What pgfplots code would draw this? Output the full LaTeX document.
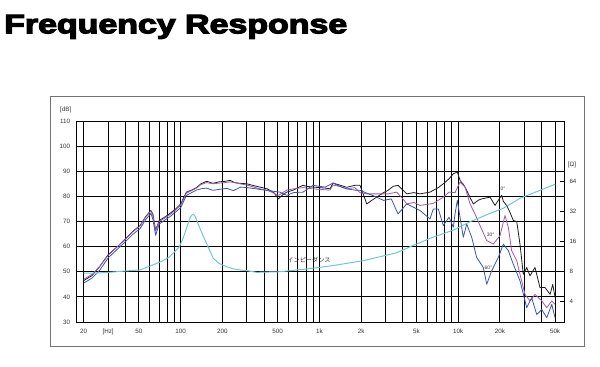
\documentclass[border=0pt]{standalone}
\usepackage{fontspec}
\setmainfont{Liberation Sans}
\newfontfamily\titlefont[FakeBold=4]{Liberation Sans Bold}
\newfontfamily\jpfont{Noto Sans CJK JP}
\usepackage{graphicx}
\usepackage{pgfplots}
\pgfplotsset{compat=1.18}
\definecolor{czero}{HTML}{1E1E1E}
\definecolor{cthirty}{HTML}{A05AAA}
\definecolor{csixty}{HTML}{3B55B5}
\definecolor{cimp}{HTML}{6CC8D4}
\begin{document}
\begin{tikzpicture}[x=1bp,y=1bp]
\path[use as bounding box] (0,0) rectangle (600,366);
\draw[black!55, line width=0.8bp] (50,20) rectangle (584,270);
\node[anchor=base west, inner sep=0] at (4,332.7) {\resizebox{343bp}{18.5bp}{\titlefont Frequency Response}};
\begin{axis}[
  at={(76bp,44bp)}, anchor=south west,
  width=488bp, height=201bp, scale only axis,
  xmode=log, xmin=17.6, xmax=58000, ymin=30, ymax=110,
  axis line style={black, line width=0.9bp},
  xtick={20,30,50,100,200,500,1000,2000,5000,10000,20000,50000},
  xticklabels={20,[Hz],50,100,200,500,1k,2k,5k,10k,20k,50k},
  minor xtick={20,30,40,50,60,70,80,90,100,200,300,400,500,600,700,800,900,1000,2000,3000,4000,5000,6000,7000,8000,9000,10000,20000,30000,40000,50000},
  xminorgrids=true, xmajorgrids=false,
  minor grid style={black, line width=0.85bp},
  ytick={30,40,...,110}, ymajorgrids=true,
  major grid style={black, line width=0.85bp},
  major tick length=0pt, minor tick length=0pt,
  extra y ticks={60,80}, extra y tick labels={},
  extra y tick style={grid style={black, line width=1.4bp}},
  extra x ticks={10000}, extra x tick labels={},
  extra x tick style={xmajorgrids=true, grid style={black, line width=1.7bp}},
  tick label style={font=\fontsize{6.3}{7}\selectfont, text=black!80},
  xticklabel style={anchor=base, yshift=-11.9bp},
  yticklabel style={xshift=-2.3bp},
  /pgf/number format/assume math mode=true,
  clip=true,
]
\addplot[czero, line width=0.8bp, line join=round] coordinates {
(20,46.5)(23,48.5)(26,52)(30,56.8)(35,60)(40,63.1)(45,66)(51,68.4)(56,72)(61,74.4)(63,73)(66,66.5)(70,70.4)(78,72)(85,73.5)(92,75)(100,77)(110,81.7)(120,82.5)(130,83.5)(140,85)(154,86)(171,85.2)(190,85.8)(210,86)(227,86.4)(245,85.5)(268,85.2)(300,85)(340,84.2)(373,83.7)(420,83)(470,81.5)(506,79)(540,80.5)(581,81.7)(650,82.5)(700,83.5)(762,84.4)(810,84)(899,83.7)(1000,83.5)(1100,83.3)(1193,83)(1253,85.3)(1400,84.5)(1573,83.6)(1800,84.4)(1963,84.4)(2100,80)(2193,77)(2400,78.5)(2589,79.7)(2900,81.5)(3123,82.4)(3400,84)(3689,84.4)(4000,82.5)(4260,81)(4800,81.5)(5312,81)(6270,81.7)(6622,82.4)(7200,83.5)(7818,85)(8600,87)(9233,89)(9870,89.7)(10320,86.4)(11000,84.5)(11530,82.4)(12200,79.5)(12880,77)(14000,78.5)(14790,79)(16980,79.7)(18450,76.4)(20050,79.5)(20620,80.4)(21200,78)(22390,76.4)(23500,74)(25000,70.4)(26460,70)(27930,61)(29510,49)(31230,51.7)(32960,48.4)(35830,51.7)(38950,43.7)(42350,43.7)(46030,41)(48100,45)(50000,39.7)
};
\addplot[cthirty, line width=0.8bp, line join=round] coordinates {
(20,47)(23,49)(26,52)(30,56.5)(35,60)(40,63)(45,65.8)(51,68.2)(56,71.8)(61,74.2)(63,72.5)(66,66.2)(70,70)(78,71.6)(85,73)(92,74.6)(100,76.5)(110,81.3)(120,82.3)(130,83.3)(140,84.7)(154,85.5)(171,85)(190,85.3)(210,85.5)(227,85.8)(268,85)(300,84.5)(373,83)(420,82.5)(506,80.4)(581,82.5)(650,83)(762,83.5)(899,83)(1000,82.8)(1193,82.5)(1253,84.5)(1400,84)(1573,83)(1800,83.5)(1963,81.5)(2193,81)(2589,81)(3123,81)(3609,81.7)(4000,79)(4260,77)(4800,77.6)(5312,76.4)(6270,77)(6622,77.2)(7818,79.7)(8600,81.7)(9500,81.5)(10320,85.7)(11220,83.7)(12190,77)(13240,73)(14380,68.4)(16080,62.4)(17940,61)(20050,64.4)(21780,72.4)(23010,67.7)(24320,58.4)(26460,54.4)(27930,49)(30350,41)(32960,38.4)(35830,41)(40090,38.4)(43550,35.7)(47330,38.4)(50000,37)
};
\addplot[csixty, line width=0.8bp, line join=round] coordinates {
(20,45.5)(23,47.5)(26,50.5)(30,55.5)(35,59)(40,62)(45,64.8)(51,67.2)(56,70.8)(61,73.2)(63,71)(66,64.5)(70,69)(78,70.8)(85,72.2)(92,73.8)(100,75.5)(110,80.4)(120,81.5)(130,82.5)(140,83)(154,83.3)(171,82.4)(190,82.8)(215,83.2)(240,82.3)(270,83.7)(300,83.5)(350,83)(400,82.5)(470,82)(520,81.7)(581,80.4)(650,81.5)(762,81.7)(899,84.4)(1000,84)(1100,83.7)(1253,85.3)(1400,84)(1573,83)(1800,82.5)(1963,82.4)(2589,79.7)(2900,78.4)(3300,79)(3689,73)(4260,77)(5312,74.4)(6270,71)(6622,75)(7200,75)(7818,68.4)(8600,71.7)(9233,67.7)(9500,73)(9870,78.4)(10320,71.7)(10900,63.7)(11530,69)(12530,63.7)(13610,55.7)(15200,51.7)(16080,45)(17460,50.4)(19490,55.7)(21180,61)(23010,58.4)(25000,53)(27930,46.4)(31230,35.7)(33910,39.7)(36870,33)(40090,35)(43550,31.7)(47330,37)(50000,31.7)
};
\node[font=\fontsize{5}{6}\selectfont, text=black!80] at (axis cs:21070,83.1) {0°};
\node[font=\fontsize{5}{6}\selectfont, text=black!80] at (axis cs:17180,64.8) {30°};
\node[font=\fontsize{5}{6}\selectfont, text=black!80] at (axis cs:16520,51.5) {60°};
\node[font=\jpfont\fontsize{6.2}{7}\selectfont, text=black!80] at (axis cs:841,54.7) {インピーダンス};
\end{axis}
\begin{axis}[
  at={(76bp,44bp)}, anchor=south west,
  width=488bp, height=201bp, scale only axis,
  xmode=log, xmin=17.6, xmax=58000,
  ymode=log, log basis y=2, ymin=2.462, ymax=256,
  axis x line=none, axis y line*=right,
  y axis line style={black, line width=0.9bp},
  ytick={4,8,16,32,64}, yticklabels={4,8,16,32,64},
  minor ytick={},
  tick style={black, line width=0.7bp},
  major tick length=4bp, tick align=inside,
  tick label style={font=\fontsize{6.2}{7}\selectfont, text=black!80},
  yticklabel style={xshift=2bp},
  /pgf/number format/assume math mode=true,
  clip=true,
]
\addplot[cimp, line width=1bp, line join=round] coordinates {
(20,7.6)(23.2,7.6)(30,7.75)(40,8.0)(51,8.2)(63,9.2)(75,10.2)(83,11.1)(92,12.8)(97.7,14.0)(104,17)(109,20.6)(115,25.5)(118,28.2)(120.6,29.2)(123,29.6)(126,28.9)(128.9,27)(136,22.3)(144,18.5)(152,15.7)(162,12.8)(172,10.7)(190,9.5)(215,8.83)(240,8.4)(268,8.19)(300,8.06)(353,7.76)(520,7.87)(810,8.38)(1193,8.98)(2073,10.15)(3609,12.2)(4500,14.0)(6270,17.0)(9233,20.6)(12190,25.0)(16980,30.3)(21180,34.1)(27930,42.9)(50000,59.3)
};
\end{axis}
\node[font=\fontsize{6.3}{7}\selectfont, text=black!80] at (65.8,256) {[dB]};
\node[font=\fontsize{6.3}{7}\selectfont, text=black!80] at (572,201) {[Ω]};
\end{tikzpicture}
\end{document}
